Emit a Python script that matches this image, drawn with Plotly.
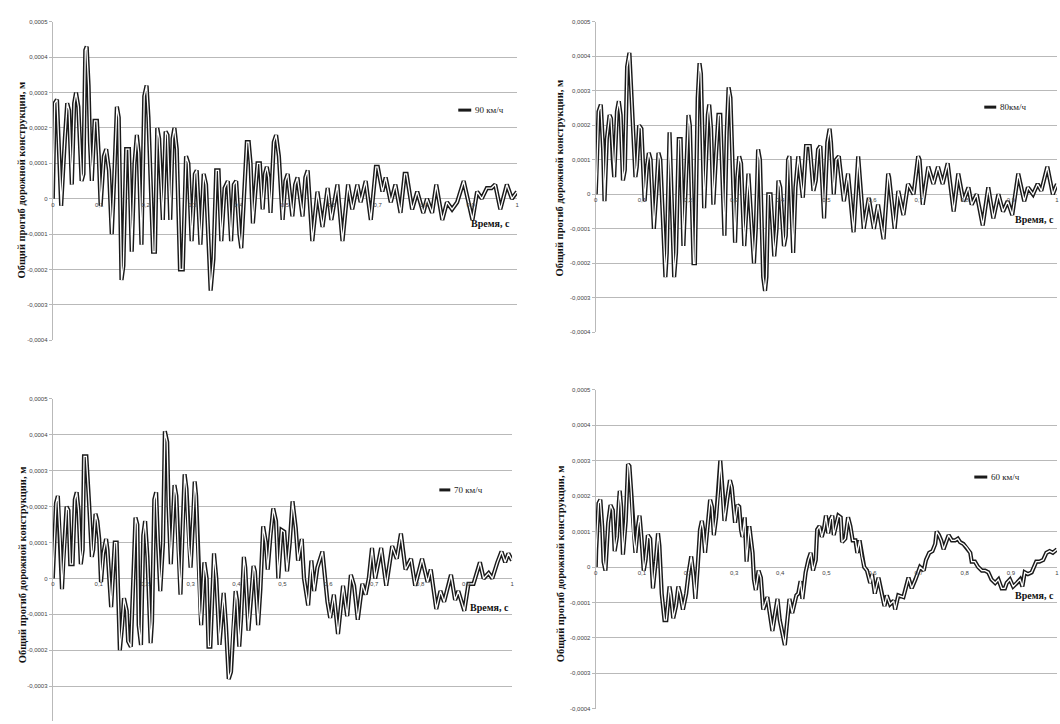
import plotly.graph_objects as go

# ---------------- data (deflection in units of 1e-4 m, time in s) ----------------
t90 = [0, 0.004, 0.009, 0.013, 0.018, 0.026, 0.031, 0.035, 0.041, 0.046, 0.050, 0.055, 0.062, 0.066,
       0.070, 0.073, 0.077, 0.080, 0.084, 0.090, 0.095, 0.099, 0.103, 0.110, 0.115, 0.121, 0.127, 0.132,
       0.138, 0.142, 0.148, 0.152, 0.158, 0.164, 0.170, 0.176, 0.181, 0.185, 0.191, 0.197, 0.202, 0.206,
       0.216, 0.220, 0.225, 0.229, 0.237, 0.243, 0.247, 0.253, 0.258, 0.262, 0.267, 0.274, 0.280, 0.287,
       0.292, 0.299, 0.306, 0.310, 0.318, 0.325, 0.330, 0.340, 0.346, 0.352, 0.357, 0.363, 0.370, 0.377,
       0.384, 0.390, 0.395, 0.402, 0.406, 0.414, 0.418, 0.422, 0.426, 0.431, 0.437, 0.441, 0.446, 0.452,
       0.457, 0.461, 0.465, 0.469, 0.476, 0.481, 0.487, 0.495, 0.501, 0.506, 0.516, 0.522, 0.527, 0.538,
       0.544, 0.549, 0.559, 0.570, 0.581, 0.592, 0.600, 0.613, 0.624, 0.636, 0.645, 0.656, 0.663, 0.674,
       0.685, 0.696, 0.700, 0.710, 0.717, 0.728, 0.738, 0.749, 0.758, 0.762, 0.774, 0.785, 0.798, 0.806,
       0.817, 0.826, 0.839, 0.849, 0.860, 0.871, 0.885, 0.904, 0.914, 0.924, 0.935, 0.945, 0.953, 0.964,
       0.978, 0.989, 1.0]
v90 = [0, 2.7, 2.8, 1.5, -0.2, 1.7, 2.7, 2.5, 0.4, 2.7, 3.0, 2.6, 0.5, 0.7,
       4.2, 4.3, 3.2, 1.6, 0.5, 2.2, 2.2, 1.2, -0.2, 1.2, 1.4, 0.8, -1.0, 0.5,
       2.6, 2.3, -2.3, -1.9, 1.4, 1.4, -1.5, 1.0, 1.8, 1.3, -1.3, 2.9, 3.2, 2.3,
       -1.5, -1.5, 2.0, 1.7, -0.6, 1.9, 1.8, -0.6, 1.7, 2.0, 1.4, -2.0, -2.0, 1.2,
       1.0, -1.2, 0.7, 0.8, -1.3, 0.7, 0.4, -2.6, -1.7, 0.8, 0.8, -1.2, 0.3, 0.5,
       -1.2, 0.4, 0.5, -1.0, -1.4, 0.6, 1.6, 1.6, 1.0, -0.7, 0.5, 1.0, 1.0, -0.3,
       0.7, 0.9, 0.6, -0.4, 1.6, 1.8, 1.2, -0.6, 0.5, 0.7, -0.5, 0.4, 0.6, -0.5,
       0.6, 0.8, -1.2, 0.2, -0.8, 0.3, -0.6, 0.4, -1.2, 0.4, -0.3, 0.4, -0.1, 0.5,
       -0.6, 0.9, 0.9, 0.2, 0.6, -0.1, 0.4, -0.4, 0.7, 0.7, -0.3, 0.2, -0.4, 0.0,
       -0.4, 0.4, -0.6, -0.1, -0.3, -0.1, 0.5, -0.6, 0.2, 0.0, 0.3, 0.3, 0.4, -0.3,
       0.4, 0.0, 0.2]

t80 = [0, 0.002, 0.006, 0.011, 0.016, 0.019, 0.024, 0.030, 0.033, 0.037, 0.040, 0.046, 0.050, 0.054,
       0.059, 0.063, 0.068, 0.073, 0.078, 0.082, 0.086, 0.089, 0.094, 0.099, 0.106, 0.111, 0.115, 0.119,
       0.126, 0.131, 0.136, 0.140, 0.151, 0.154, 0.160, 0.170, 0.174, 0.180, 0.184, 0.190, 0.201, 0.204,
       0.212, 0.215, 0.221, 0.225, 0.228, 0.232, 0.235, 0.243, 0.246, 0.250, 0.255, 0.261, 0.266, 0.270,
       0.279, 0.284, 0.288, 0.292, 0.302, 0.307, 0.311, 0.315, 0.322, 0.331, 0.343, 0.347, 0.352, 0.356,
       0.363, 0.367, 0.370, 0.374, 0.379, 0.387, 0.392, 0.396, 0.400, 0.408, 0.412, 0.417, 0.420, 0.428,
       0.433, 0.439, 0.444, 0.449, 0.456, 0.464, 0.472, 0.477, 0.482, 0.487, 0.495, 0.502, 0.507, 0.510,
       0.516, 0.521, 0.527, 0.538, 0.547, 0.559, 0.569, 0.581, 0.592, 0.603, 0.612, 0.624, 0.634, 0.636,
       0.648, 0.656, 0.667, 0.677, 0.689, 0.699, 0.702, 0.709, 0.721, 0.732, 0.742, 0.752, 0.763, 0.776,
       0.786, 0.797, 0.808, 0.815, 0.826, 0.839, 0.851, 0.862, 0.873, 0.883, 0.893, 0.903, 0.916, 0.929,
       0.937, 0.948, 0.958, 0.966, 0.979, 0.991, 1.0]
v80 = [0, 0.6, 2.4, 2.6, 1.3, -0.2, 1.6, 2.3, 2.2, 1.0, 0.5, 2.4, 2.7, 2.3,
       0.4, 0.7, 3.7, 4.1, 2.8, 1.5, 0.5, 0.8, 2.0, 1.9, -0.2, 0.8, 1.2, 1.0,
       -1.0, 0.0, 1.2, 1.0, -2.4, -1.7, 1.8, -2.4, -1.7, 1.6, 1.6, -1.5, 2.3, 2.0,
       -2.0, -2.0, 2.8, 3.8, 3.5, 1.3, -0.4, 2.3, 2.6, 1.9, -0.3, 1.2, 2.3, 2.3,
       -1.2, 1.8, 3.1, 2.8, -1.4, 0.5, 1.1, 0.9, -1.5, 0.6, -2.0, -1.0, 1.3, 1.0,
       -2.4, -2.8, -2.4, 0.0, 0.0, -1.8, -1.0, 0.4, 0.2, -1.5, -1.2, 1.0, 1.1, -1.7,
       0.2, 1.1, 0.5, -0.1, 1.4, 1.4, 0.1, 0.4, 1.3, 1.4, -0.7, 1.5, 1.9, 1.5,
       0.0, 1.0, 1.1, -0.2, 0.6, -1.1, 1.1, -1.0, -0.1, -1.0, -0.3, -1.3, 0.6, 0.5,
       -1.0, 0.1, -0.6, 0.3, 0.0, 1.1, 1.0, -0.3, 0.8, 0.3, 0.8, 0.3, 0.9, -0.5,
       0.6, -0.2, 0.2, -0.3, 0.0, -0.9, 0.2, -0.7, 0.0, -0.5, -0.2, -0.6, 0.6, -0.2,
       0.2, 0.0, 0.3, 0.1, 0.8, 0.0, 0.3]

t70 = [0, 0.002, 0.007, 0.011, 0.016, 0.020, 0.023, 0.027, 0.030, 0.034, 0.038, 0.043, 0.048, 0.052,
       0.056, 0.061, 0.065, 0.068, 0.073, 0.079, 0.085, 0.088, 0.093, 0.097, 0.101, 0.105, 0.110, 0.116,
       0.119, 0.127, 0.132, 0.135, 0.139, 0.142, 0.146, 0.151, 0.155, 0.161, 0.164, 0.170, 0.175, 0.180,
       0.184, 0.187, 0.192, 0.197, 0.201, 0.206, 0.213, 0.216, 0.221, 0.225, 0.229, 0.234, 0.240, 0.244,
       0.249, 0.252, 0.257, 0.260, 0.265, 0.269, 0.273, 0.278, 0.283, 0.287, 0.291, 0.296, 0.300, 0.305,
       0.309, 0.312, 0.316, 0.320, 0.323, 0.330, 0.335, 0.339, 0.343, 0.351, 0.356, 0.363, 0.368, 0.372,
       0.377, 0.383, 0.388, 0.392, 0.398, 0.401, 0.406, 0.410, 0.416, 0.419, 0.426, 0.432, 0.437, 0.440,
       0.447, 0.452, 0.458, 0.464, 0.468, 0.474, 0.480, 0.486, 0.491, 0.498, 0.504, 0.510, 0.516, 0.522,
       0.529, 0.534, 0.542, 0.547, 0.556, 0.563, 0.569, 0.576, 0.587, 0.598, 0.604, 0.612, 0.621, 0.632,
       0.641, 0.649, 0.656, 0.664, 0.674, 0.681, 0.688, 0.695, 0.702, 0.715, 0.726, 0.739, 0.749, 0.758,
       0.768, 0.780, 0.789, 0.804, 0.816, 0.823, 0.835, 0.844, 0.852, 0.867, 0.876, 0.883, 0.896, 0.905,
       0.916, 0.930, 0.938, 0.949, 0.957, 0.968, 0.977, 0.985, 0.992, 1.0]
v70 = [0, 0.7, 2.1, 2.3, 1.1, -0.3, 0.5, 1.5, 2.0, 1.9, 0.4, 0.4, 2.2, 2.4,
       1.9, 0.4, 0.8, 3.4, 3.4, 2.1, 0.6, 0.8, 1.8, 1.6, 1.1, -0.1, 0.7, 1.1,
       0.8, -0.8, 0.5, 1.0, 1.0, -0.2, -2.0, -1.3, -0.55, -0.9, -1.75, -1.9, 0.0, 1.7,
       1.5, -1.3, -1.85, 1.2, 1.6, 0.6, -1.8, -1.2, 2.2, 2.4, 1.0, -0.35, 1.0, 4.1,
       3.8, 2.0, 0.4, 1.2, 2.6, 2.3, 0.8, -0.45, 1.5, 2.9, 2.5, 0.9, 0.3, 1.5,
       2.7, 2.3, 0.8, -0.9, -1.3, 0.45, 0.0, -1.9, -1.9, 0.7, 0.0, -1.85, -1.0, -0.4,
       -1.3, -2.8, -2.6, -1.5, -0.35, -0.6, -1.9, -1.1, 0.6, 0.3, -1.45, -0.5, 0.35, 0.2,
       -1.3, -0.3, 1.45, 1.0, 0.25, 1.2, 1.95, 1.6, 0.0, 1.35, 1.3, 0.2, 1.0, 2.15,
       1.4, 0.5, 1.1, 0.0, -0.75, 0.5, -0.35, 0.3, 0.75, -0.65, -1.1, -0.45, -1.55, -0.2,
       -1.05, 0.1, -0.2, -1.15, -0.15, -0.45, 0.0, 0.85, 0.0, 0.85, -0.2, 0.9, 0.55, 1.25,
       0.25, 0.55, -0.2, 0.55, -0.1, 0.25, -0.85, -0.35, -0.65, 0.1, -0.6, -0.35, -0.9, -0.15,
       -0.15, 0.45, 0.0, 0.15, 0.0, 0.45, 0.75, 0.45, 0.7, 0.5]

t60 = [0, 0.001, 0.006, 0.010, 0.014, 0.017, 0.021, 0.023, 0.027, 0.032, 0.037, 0.041, 0.046, 0.050,
       0.052, 0.055, 0.059, 0.065, 0.070, 0.073, 0.077, 0.081, 0.086, 0.091, 0.095, 0.099, 0.104, 0.108,
       0.113, 0.118, 0.124, 0.130, 0.135, 0.138, 0.143, 0.149, 0.153, 0.160, 0.163, 0.168, 0.174, 0.179,
       0.183, 0.189, 0.196, 0.201, 0.207, 0.212, 0.216, 0.221, 0.226, 0.230, 0.233, 0.237, 0.243, 0.248,
       0.252, 0.256, 0.261, 0.266, 0.270, 0.275, 0.279, 0.286, 0.291, 0.295, 0.299, 0.302, 0.307, 0.311,
       0.315, 0.318, 0.323, 0.327, 0.333, 0.340, 0.343, 0.347, 0.353, 0.358, 0.363, 0.372, 0.376, 0.383,
       0.389, 0.394, 0.399, 0.405, 0.410, 0.413, 0.417, 0.420, 0.426, 0.435, 0.439, 0.444, 0.448, 0.455,
       0.461, 0.466, 0.471, 0.477, 0.480, 0.485, 0.490, 0.495, 0.499, 0.504, 0.509, 0.513, 0.516, 0.520,
       0.526, 0.531, 0.534, 0.541, 0.547, 0.552, 0.557, 0.563, 0.567, 0.572, 0.577, 0.582, 0.588, 0.595,
       0.599, 0.605, 0.613, 0.620, 0.626, 0.631, 0.638, 0.646, 0.649, 0.656, 0.667, 0.678, 0.685, 0.693,
       0.698, 0.703, 0.711, 0.716, 0.723, 0.730, 0.736, 0.739, 0.744, 0.749, 0.754, 0.761, 0.765, 0.772,
       0.779, 0.785, 0.790, 0.797, 0.804, 0.812, 0.815, 0.822, 0.829, 0.837, 0.844, 0.851, 0.858, 0.866,
       0.873, 0.880, 0.887, 0.891, 0.898, 0.905, 0.913, 0.920, 0.925, 0.930, 0.937, 0.945, 0.955, 0.962,
       0.970, 0.977, 0.984, 0.991, 1.0]
v60 = [0, 0.5, 1.8, 1.9, 1.15, 0.15, -0.1, 0.4, 1.25, 1.75, 1.6, 0.45, 0.85, 1.8,
       2.15, 1.7, 0.35, 1.3, 2.9, 2.85, 2.1, 0.95, 0.4, 1.1, 1.45, 0.85, -0.1, 0.2,
       0.9, 0.8, -0.6, 0.15, 0.95, 0.6, -0.75, -1.5, -1.5, -0.55, -0.8, -1.45, -1.1, -0.55,
       -0.75, -1.2, -0.75, -0.2, 0.3, -0.25, -0.9, 0.0, 1.05, 1.3, 1.05, 0.4, 1.25, 1.9,
       1.7, 0.9, 1.4, 2.15, 3.0, 2.15, 1.3, 2.0, 2.45, 2.25, 1.7, 1.25, 1.75, 1.7,
       1.05, 0.85, 1.4, 0.15, 1.15, 0.4, -0.35, -0.65, -0.1, -0.3, -1.2, -0.85, -1.2, -1.8,
       -1.3, -0.9, -1.5, -1.9, -2.2, -1.8, -1.3, -0.9, -1.3, -0.8, -0.75, -0.4, -0.9, -0.15,
       0.2, 0.4, -0.1, 0.2, 1.05, 1.15, 0.85, 1.1, 1.45, 0.95, 1.35, 1.45, 0.9, 1.15,
       1.45, 1.4, 0.7, 0.8, 1.4, 1.15, 0.75, 0.75, 0.4, 0.75, 0.3, 0.0, -0.1, -0.45,
       -0.2, -0.75, -0.3, -0.75, -1.1, -0.8, -1.05, -0.95, -1.2, -0.8, -0.85, -0.3, -0.6, -0.35,
       -0.15, 0.0, -0.1, 0.2, 0.4, 0.45, 0.65, 1.0, 0.9, 0.75, 0.5, 0.75, 0.9, 0.75,
       0.75, 0.8, 0.7, 0.65, 0.55, 0.4, 0.15, 0.15, 0.0, -0.1, -0.1, -0.15, -0.35, -0.45,
       -0.35, -0.6, -0.6, -0.45, -0.35, -0.55, -0.45, -0.35, -0.55, -0.15, -0.2, -0.15, 0.15, 0.15,
       0.2, 0.4, 0.45, 0.4, 0.5]

series_names = ["90 км/ч", "80км/ч", "70 км/ч", "60 км/ч"]
y_tick_vals = [0.0005, 0.0004, 0.0003, 0.0002, 0.0001, 0, -0.0001, -0.0002, -0.0003, -0.0004]
y_tick_text = ["0,0005", "0,0004", "0,0003", "0,0002", "0,0001", "0", "-0,0001", "-0,0002", "-0,0003", "-0,0004"]
x_tick_vals = [0, 0.1, 0.2, 0.3, 0.4, 0.5, 0.6, 0.7, 0.8, 0.9, 1]
x_tick_text = ["0", "0,1", "0,2", "0,3", "0,4", "0,5", "0,6", "0,7", "0,8", "0,9", "1"]
y_title = "Общий прогиб дорожной конструкции, м"
x_title = "Время, с"

W, H = 1060, 724
SCALE = 1e-4

def px(x):
    return x / W

def py(y):
    return 1 - y / H

panels = [
    dict(t=t90, v=v90, name=series_names[0], x0=51, x1=517, ytop=19, ybot=340, rbot=-0.0004,
         leg=(458, 471, 108), xt=(512, 222), yt=(20, 178)),
    dict(t=t80, v=v80, name=series_names[1], x0=596, x1=1059, ytop=19, ybot=332, rbot=-0.0004,
         leg=(986, 998, 105), xt=(1058, 218), yt=(560, 176)),
    dict(t=t70, v=v70, name=series_names[2], x0=51, x1=512, ytop=399.3, ybot=724, rbot=-0.000397,
         leg=(439, 450, 491), xt=(511, 610), yt=(20, 566)),
    dict(t=t60, v=v60, name=series_names[3], x0=596, x1=1059, ytop=390, ybot=711.7, rbot=-0.0004,
         leg=(976, 989, 478), xt=(1058, 597), yt=(560, 565)),
]

fig = go.Figure()
layout = dict(
    width=W, height=H, margin=dict(l=0, r=0, t=0, b=0),
    paper_bgcolor="white", plot_bgcolor="white", showlegend=False,
    separators=", ",
)
shapes = []
annotations = []
grid_col = "#b9b9b9"
line_col = "#1a1a1a"

for i, p in enumerate(panels):
    k = "" if i == 0 else str(i + 1)
    xa, ya = "x" + k, "y" + k
    ys = [val * SCALE for val in p["v"]]
    fig.add_trace(go.Scatter(x=p["t"], y=ys, mode="lines", xaxis=xa, yaxis=ya,
                             line=dict(color=line_col, width=4.2),
                             name=p["name"], hoverinfo="skip"))
    fig.add_trace(go.Scatter(x=p["t"], y=ys, mode="lines", xaxis=xa, yaxis=ya,
                             line=dict(color="white", width=1.3),
                             hoverinfo="skip"))
    ydom = [max(0.0, py(p["ybot"])), py(p["ytop"])]
    rng = [p["rbot"], 0.0005]
    zero_pos = ydom[0] + (0 - rng[0]) / (rng[1] - rng[0]) * (ydom[1] - ydom[0])
    layout["xaxis" + k] = dict(
        domain=[px(p["x0"]), px(p["x1"])], range=[0, 1], anchor="free", position=zero_pos,
        tickvals=x_tick_vals, ticktext=x_tick_text, showgrid=False, zeroline=False,
        showline=False, ticks="", tickfont=dict(family="Liberation Sans", size=6, color="#444"),
        ticklabelstandoff=1,
    )
    layout["yaxis" + k] = dict(
        domain=ydom, range=rng, anchor=xa, tickvals=y_tick_vals, ticktext=y_tick_text,
        showgrid=True, gridcolor=grid_col, gridwidth=1.2, zeroline=True, zerolinecolor=grid_col,
        zerolinewidth=1.2, showline=True, linecolor=grid_col, linewidth=1.2,
        ticks="outside", ticklen=3, tickcolor=grid_col,
        tickfont=dict(family="Liberation Sans", size=6, color="#444"),
    )
    lx0, lx1, ly = p["leg"]
    shapes.append(dict(type="line", xref="paper", yref="paper", x0=px(lx0), x1=px(lx1),
                       y0=py(ly), y1=py(ly), line=dict(color=line_col, width=3)))
    annotations.append(dict(xref="paper", yref="paper", x=px(lx1 + 2), y=py(ly), text=p["name"],
                            showarrow=False, xanchor="left", yanchor="middle",
                            font=dict(family="Liberation Serif", size=9, color="#222")))
    annotations.append(dict(xref="paper", yref="paper", x=px(p["xt"][0]), y=py(p["xt"][1]),
                            text="<b>" + x_title + "</b>", showarrow=False, xanchor="right",
                            yanchor="middle",
                            font=dict(family="Liberation Serif", size=10, color="#111")))
    annotations.append(dict(xref="paper", yref="paper", x=px(p["yt"][0]), y=py(p["yt"][1]),
                            text="<b>" + y_title + "</b>", showarrow=False, textangle=-90,
                            xanchor="center", yanchor="middle",
                            font=dict(family="Liberation Serif", size=10.5, color="#111")))

layout["shapes"] = shapes
layout["annotations"] = annotations
fig.update_layout(**layout)

fig.write_html("out.html", config={"displayModeBar": False},
               post_script="document.body.style.margin='0';document.body.style.overflow='hidden';")
